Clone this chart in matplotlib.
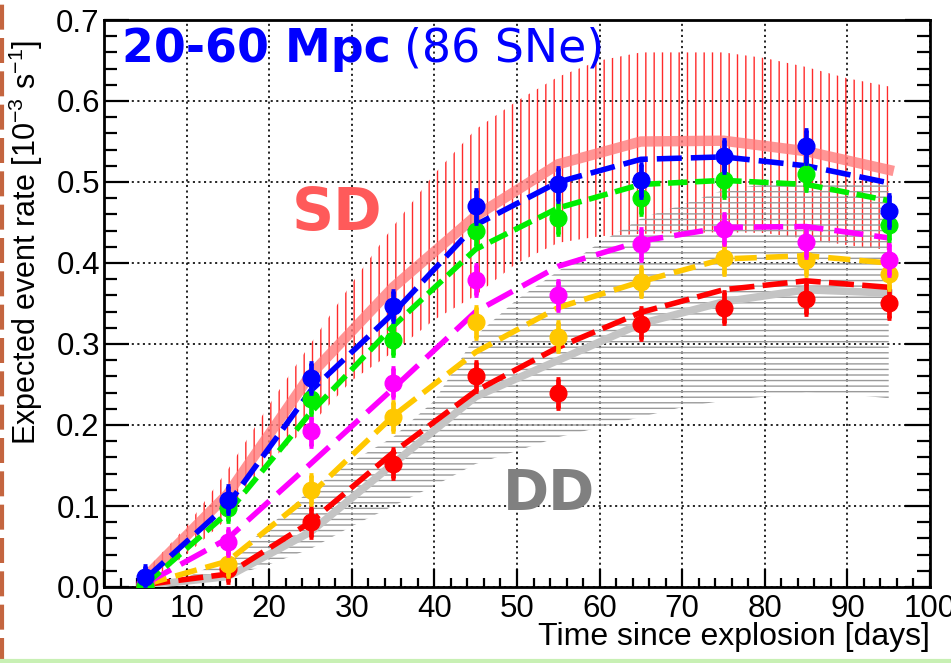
import matplotlib
matplotlib.use('Agg')
import matplotlib.pyplot as plt
from matplotlib.ticker import MultipleLocator, FormatStrFormatter
from matplotlib.lines import Line2D

# ---------------- data ----------------
days = [5, 15, 25, 35, 45, 55, 65, 75, 85, 95]

# measured points
rate_red     = [0.002, 0.022, 0.080, 0.152, 0.260, 0.239, 0.325, 0.345, 0.356, 0.351]
rate_yellow  = [0.003, 0.029, 0.120, 0.210, 0.327, 0.309, 0.377, 0.406, 0.404, 0.387]
rate_magenta = [0.005, 0.055, 0.192, 0.252, 0.379, 0.360, 0.423, 0.442, 0.426, 0.404]
rate_green   = [0.001, 0.098, 0.232, 0.305, 0.440, 0.455, 0.480, 0.502, 0.510, 0.447]
rate_blue    = [0.012, 0.108, 0.258, 0.347, 0.470, 0.497, 0.502, 0.532, 0.544, 0.464]

err_red     = [0.012, 0.016, 0.018, 0.018, 0.018, 0.018, 0.019, 0.019, 0.019, 0.019]
err_yellow  = [0.012, 0.016, 0.018, 0.018, 0.019, 0.018, 0.018, 0.019, 0.019, 0.019]
err_magenta = [0.012, 0.016, 0.018, 0.018, 0.019, 0.018, 0.019, 0.019, 0.019, 0.019]
err_green   = [0.012, 0.016, 0.018, 0.019, 0.019, 0.019, 0.019, 0.020, 0.020, 0.019]
err_blue    = [0.014, 0.017, 0.019, 0.019, 0.020, 0.020, 0.020, 0.020, 0.020, 0.020]

# model curves (dashed)
model_red     = [0.003, 0.016, 0.080, 0.166, 0.242, 0.296, 0.339, 0.367, 0.378, 0.370]
model_yellow  = [0.003, 0.032, 0.114, 0.211, 0.290, 0.345, 0.377, 0.405, 0.409, 0.400]
model_magenta = [0.004, 0.060, 0.152, 0.245, 0.340, 0.396, 0.427, 0.444, 0.445, 0.431]
model_green   = [0.003, 0.092, 0.215, 0.322, 0.417, 0.468, 0.497, 0.502, 0.497, 0.477]
model_blue    = [0.010, 0.102, 0.242, 0.338, 0.447, 0.500, 0.528, 0.531, 0.520, 0.499]

# SD / DD reference curves
sd_central = [0.012, 0.115, 0.262, 0.370, 0.458, 0.522, 0.550, 0.551, 0.538, 0.515]
dd_central = [0.002, 0.013, 0.068, 0.152, 0.235, 0.280, 0.325, 0.352, 0.367, 0.363]

band_days = [5, 10, 15, 20, 25, 30, 35, 40, 45, 50, 55, 60, 65, 70, 75, 80, 85, 90, 95]
sd_upper = [0.020, 0.075, 0.145, 0.225, 0.300, 0.375, 0.445, 0.510, 0.565, 0.600, 0.630,
            0.650, 0.660, 0.660, 0.660, 0.653, 0.642, 0.628, 0.618]
sd_lower = [0.004, 0.040, 0.085, 0.155, 0.200, 0.255, 0.290, 0.330, 0.360, 0.400, 0.425,
            0.433, 0.436, 0.437, 0.438, 0.437, 0.430, 0.422, 0.416]
dd_upper = [0.003, 0.012, 0.035, 0.075, 0.120, 0.155, 0.185, 0.230, 0.310, 0.355, 0.390,
            0.425, 0.455, 0.472, 0.490, 0.497, 0.500, 0.500, 0.500]
dd_lower = [0.000, 0.003, 0.012, 0.028, 0.047, 0.075, 0.100, 0.125, 0.152, 0.168, 0.185,
            0.197, 0.210, 0.222, 0.230, 0.235, 0.240, 0.238, 0.233]

# ---------------- style ----------------
plt.rcParams['font.family'] = ['Liberation Sans', 'DejaVu Sans']
plt.rcParams['mathtext.fontset'] = 'custom'
plt.rcParams['mathtext.rm'] = 'Liberation Sans'
plt.rcParams['mathtext.it'] = 'Liberation Sans:italic'
plt.rcParams['mathtext.bf'] = 'Liberation Sans:bold'
plt.rcParams['hatch.linewidth'] = 1.0
plt.rcParams['lines.scale_dashes'] = False

W, H = 951, 663
fig = plt.figure(figsize=(W / 100, H / 100), dpi=100)
ax = fig.add_axes([104 / W, 1 - 587 / H, (930 - 104) / W, (587 - 20) / H])
ax.set_xlim(0, 100)
ax.set_ylim(0, 0.7)

# bands
ax.fill_between(band_days, sd_lower, sd_upper, facecolor='none', edgecolor='#ff2a2a',
                linewidth=0, hatch='||', zorder=2)
ax.fill_between(band_days, dd_lower, dd_upper, facecolor='none', edgecolor='#9a9a9a',
                linewidth=0, hatch='---', zorder=2)
ax.plot(days, sd_central, color='#ff7b7b', lw=7.5, alpha=0.8, zorder=3,
        solid_joinstyle='miter')
ax.plot(days, dd_central, color='#c4c4c4', lw=5.5, zorder=3, solid_joinstyle='miter')

series = [
    (model_red, rate_red, err_red, '#ff0000', (18, 6)),
    (model_yellow, rate_yellow, err_yellow, '#ffc800', (16, 6.5)),
    (model_magenta, rate_magenta, err_magenta, '#ff00ff', (21, 8)),
    (model_green, rate_green, err_green, '#00ee00', (14, 5.5)),
    (model_blue, rate_blue, err_blue, '#0000ff', (18, 6.5)),
]
for i, (model, rate, err, col, dash) in enumerate(series):
    ax.plot(days, model, color=col, lw=4, dashes=dash, zorder=4 + 0.1 * i,
            dash_capstyle='butt')
for i, (model, rate, err, col, dash) in enumerate(series):
    ax.errorbar(days, rate, yerr=err, fmt='o', color=col, ms=12, elinewidth=3.4,
                capsize=1.6, capthick=3.4, zorder=5 + 0.1 * i)

# axes styling
for sp in ax.spines.values():
    sp.set_linewidth(2.0)
ax.xaxis.set_major_locator(MultipleLocator(10))
ax.xaxis.set_minor_locator(MultipleLocator(2))
ax.yaxis.set_major_locator(MultipleLocator(0.1))
ax.yaxis.set_minor_locator(MultipleLocator(0.02))
ax.yaxis.set_major_formatter(FormatStrFormatter('%.1f'))
ax.tick_params(axis='both', which='both', direction='in', width=1.6, labelsize=22.5)
ax.tick_params(axis='x', which='major', length=13, pad=5, top=False)
ax.tick_params(axis='x', which='minor', length=6.5, top=False)
ax.tick_params(axis='y', which='major', length=18, pad=3, right=True)
ax.tick_params(axis='y', which='minor', length=9.5, right=True)
ax.grid(True, which='major', color='black', linestyle=(0, (1.5, 2.5)), linewidth=1.2,
        zorder=1)
ax.set_axisbelow(True)

ax.set_xlabel('Time since explosion [days]', fontsize=23, ha='right', va='top')
ax.xaxis.set_label_coords(1.0, -0.062)
ax.set_ylabel('Expected event rate [10$^{-3}$ s$^{-1}$]', fontsize=22, ha='right',
              va='bottom')
ax.yaxis.set_label_coords(-0.072, 0.965)

# annotations
t1 = ax.text(2.2, 0.636, '20-60 Mpc', color='#0000ff', fontsize=33, fontweight='bold',
             family='DejaVu Sans', va='bottom', ha='left', zorder=6)
ax.annotate('(86 SNe)', xy=(1, 0), xycoords=t1, xytext=(9, 0), textcoords='offset points',
            color='#0000ff', fontsize=33, family='DejaVu Sans', va='bottom', ha='left',
            zorder=6)
ax.text(28.2, 0.461, 'SD', color='#ff5a5a', fontsize=42, fontweight='bold',
        family='DejaVu Sans', ha='center', va='center', zorder=6)
ax.text(53.9, 0.115, 'DD', color='#808080', fontsize=40, fontweight='bold',
        family='DejaVu Sans', ha='center', va='center', zorder=6)

# screenshot border decorations
fig.add_artist(Line2D([2 / W, 2 / W], [0, 1], transform=fig.transFigure,
                      color='#c4653f', lw=3, dashes=(18, 6)))
fig.add_artist(Line2D([0, 1], [2 / H, 2 / H], transform=fig.transFigure,
                      color='#c8f0b4', lw=3))

fig.savefig('out.png', dpi=100)
